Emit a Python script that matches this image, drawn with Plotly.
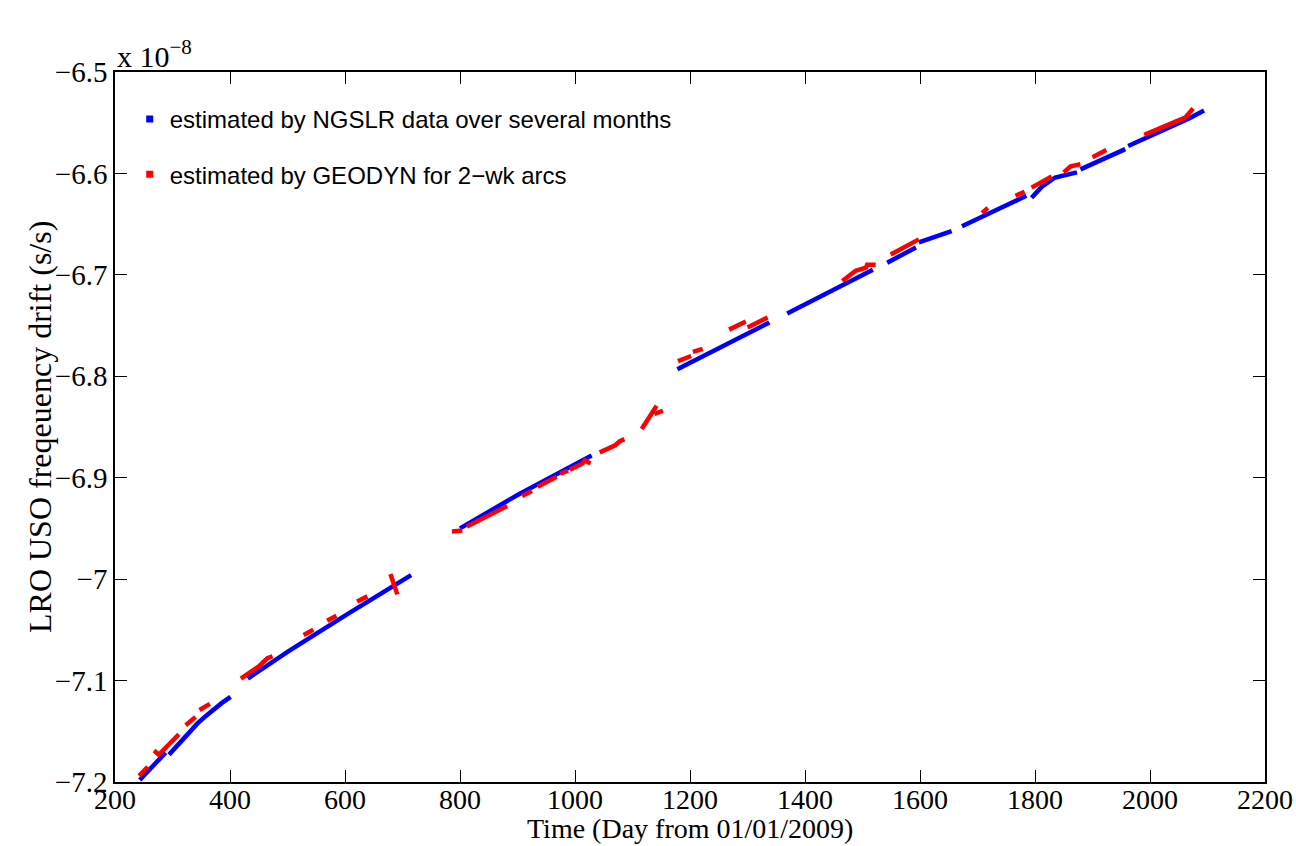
import plotly.graph_objects as go

# ---- data (y in units of 1e-8 s/s), None separates segments ----
blue_x = [243, 265, 288, None,
          294, 308, 320, 332, 344, 358, 372, 386, 401, None,
          431, 502, 600, 715, None,
          800, 900, 1029, None,
          1178, 1260, 1338, None,
          1369, 1440, 1518, None,
          1543, 1593, None,
          1598, 1655, None,
          1673, 1730, 1785, None,
          1794, 1812, 1835, 1855, 1873, None,
          1879, 1957, None,
          1962, 2026, 2067, 2094]
blue_y = [-7.198, -7.185, -7.171, None,
          -7.173, -7.164, -7.156, -7.149, -7.142, -7.135, -7.128, -7.122, -7.116, None,
          -7.098, -7.071, -7.036, -6.996, None,
          -6.950, -6.917, -6.878, None,
          -6.793, -6.769, -6.747, None,
          -6.738, -6.717, -6.695, None,
          -6.688, -6.673, None,
          -6.668, -6.657, None,
          -6.652, -6.637, -6.622, None,
          -6.624, -6.613, -6.604, -6.601, -6.599, None,
          -6.596, -6.576, None,
          -6.573, -6.557, -6.546, -6.538]

red_x = [242, 257, None,
         268, 276, 285, 311, None,
         323, 340, None,
         347, 365, None,
         419, 450, 465, 474, None,
         528, 545, None,
         569, 585, None,
         621, 639, None,
         679, 691, None,
         786, 804, None,
         812, 850, 882, None,
         908, 925, None,
         935, 968, None,
         974, 988, None,
         991, 1013, 1017, 1027, None,
         1043, 1070, 1078, 1086, None,
         1116, 1142, None,
         1138, 1153, None,
         1179, 1202, None,
         1205, 1222, None,
         1268, 1297, None,
         1300, 1335, None,
         1465, 1488, 1506, 1508, 1523, None,
         1549, 1598, None,
         1708, 1718, None,
         1766, 1782, None,
         1794, 1815, 1829, None,
         1850, 1862, 1879, None,
         1900, 1924, None,
         1990, 2030, 2061, 2075]
red_y = [-7.194, -7.185, None,
         -7.169, -7.173, -7.168, -7.153, None,
         -7.144, -7.136, None,
         -7.129, -7.123, None,
         -7.098, -7.086, -7.078, -7.076, None,
         -7.055, -7.050, None,
         -7.041, -7.036, None,
         -7.022, -7.017, None,
         -6.995, -7.015, None,
         -6.953, -6.952, None,
         -6.948, -6.937, -6.928, None,
         -6.918, -6.913, None,
         -6.909, -6.899, None,
         -6.896, -6.893, None,
         -6.892, -6.886, -6.883, -6.886, None,
         -6.875, -6.868, -6.864, -6.862, None,
         -6.852, -6.829, None,
         -6.837, -6.834, None,
         -6.785, -6.780, None,
         -6.776, -6.773, None,
         -6.754, -6.746, None,
         -6.752, -6.742, None,
         -6.706, -6.696, -6.693, -6.690, -6.690, None,
         -6.680, -6.665, None,
         -6.639, -6.634, None,
         -6.622, -6.618, None,
         -6.614, -6.608, -6.603, None,
         -6.599, -6.593, -6.591, None,
         -6.584, -6.577, None,
         -6.562, -6.552, -6.545, -6.536]

x_ticks = [200, 400, 600, 800, 1000, 1200, 1400, 1600, 1800, 2000, 2200]
y_ticks = [-7.2, -7.1, -7.0, -6.9, -6.8, -6.7, -6.6, -6.5]
y_tick_text = ["\u22127.2", "\u22127.1", "\u22127", "\u22126.9", "\u22126.8",
               "\u22126.7", "\u22126.6", "\u22126.5"]

series_names = ["estimated by NGSLR data over several months",
                "estimated by GEODYN for 2\u2212wk arcs"]
x_title = "Time (Day from 01/01/2009)"
y_title = "LRO USO freqeuency drift (s/s)"
BLUE = "rgb(0,0,255)"
RED = "rgb(255,0,0)"

fig = go.Figure()
fig.add_trace(go.Scatter(x=blue_x, y=blue_y, mode="lines", connectgaps=False,
                         line=dict(color=BLUE, width=4.5), showlegend=False,
                         name=series_names[0]))
fig.add_trace(go.Scatter(x=red_x, y=red_y, mode="lines", connectgaps=False,
                         line=dict(color=RED, width=4.5), showlegend=False,
                         name=series_names[1]))
# legend entries (small square swatches like the original)
fig.add_trace(go.Scatter(x=[None], y=[None], mode="markers", name=series_names[0],
                         marker=dict(symbol="square", size=7, color=BLUE),
                         legendgroup="a"))
fig.add_trace(go.Scatter(x=[None], y=[None], mode="markers", name=series_names[1],
                         marker=dict(symbol="square", size=7, color=RED),
                         legendgroup="b"))

serif = "Liberation Serif"
axis_common = dict(showline=True, linecolor="black", linewidth=1.5, mirror="ticks",
                   ticks="inside", ticklen=12, tickwidth=1, tickcolor="black",
                   showgrid=False, zeroline=False)

fig.update_layout(
    width=1296, height=846,
    margin=dict(l=115, r=31, t=72, b=64),
    paper_bgcolor="white", plot_bgcolor="white",
    xaxis=dict(range=[200, 2200], tickvals=x_ticks, automargin=False,
               ticklabelstandoff=-8,
               tickfont=dict(family=serif, size=28, color="black"), **axis_common),
    yaxis=dict(range=[-7.2, -6.5], tickvals=y_ticks, ticktext=y_tick_text,
               automargin=False,
               tickfont=dict(family=serif, size=29, color="black"), **axis_common),
    legend=dict(x=0.0128, y=0.965, xanchor="left", yanchor="top",
                bgcolor="rgba(0,0,0,0)", borderwidth=0,
                font=dict(family="Liberation Sans", size=24, color="black"),
                tracegroupgap=21, traceorder="grouped"),
    annotations=[
        dict(text="x 10<sup>\u22128</sup>", xref="paper", yref="paper",
             x=0, y=1, xanchor="left", yanchor="bottom", showarrow=False,
             yshift=-3, font=dict(family=serif, size=30, color="black")),
        dict(text=x_title, xref="paper", yref="paper", x=0.5, y=0,
             xanchor="center", yanchor="bottom", yshift=-64, showarrow=False,
             font=dict(family=serif, size=28, color="black")),
        dict(text=y_title, xref="paper", yref="paper", x=0, y=0.5,
             xanchor="center", yanchor="middle", xshift=-75, textangle=-90,
             showarrow=False, font=dict(family=serif, size=32, color="black")),
    ],
)

fig.write_html("out.html", config={"displayModeBar": False},
               post_script="document.body.style.margin='0';"
                           "document.body.style.overflow='hidden';")
